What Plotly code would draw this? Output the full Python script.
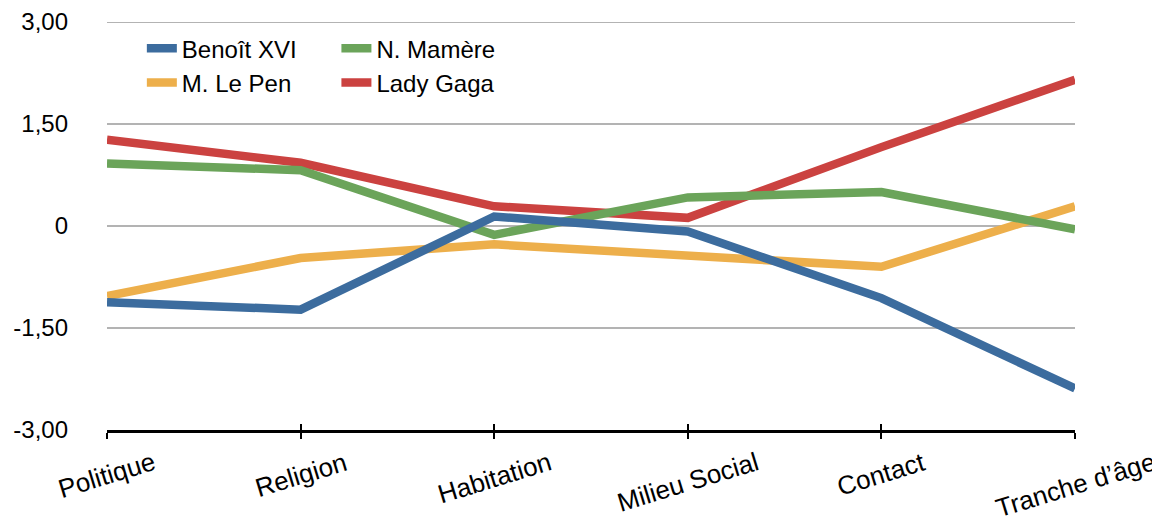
import plotly.graph_objects as go

categories = ["Politique", "Religion", "Habitation", "Milieu Social", "Contact", "Tranche d\u2019\u00e2ge"]
benoit = [-1.12, -1.23, 0.14, -0.08, -1.06, -2.39]
le_pen = [-1.03, -0.47, -0.27, -0.43, -0.60, 0.29]
mamere = [0.92, 0.82, -0.13, 0.42, 0.50, -0.05]
gaga = [1.27, 0.93, 0.29, 0.12, 1.16, 2.15]

y_tickvals = [-3, -1.5, 0, 1.5, 3]
y_ticktext = ["-3,00", "-1,50", "0", "1,50", "3,00"]

FONT = "Liberation Sans, Arial, Helvetica, sans-serif"
GRID = "#B3B3B3"
idx = list(range(len(categories)))

fig = go.Figure()
# draw order (bottom -> top): Le Pen, Gaga, Mamère, Benoît
series = [
    ("M. Le Pen", le_pen, "#EDAF4B", "legend", 2),
    ("Lady Gaga", gaga, "#CB4240", "legend2", 2),
    ("N. Mam\u00e8re", mamere, "#6BA45A", "legend2", 1),
    ("Beno\u00eet XVI", benoit, "#3C6C9E", "legend", 1),
]
for name, vals, color, leg, rank in series:
    fig.add_trace(go.Scatter(
        x=idx, y=vals, mode="lines", name=name,
        line=dict(color=color, width=8.5),
        legend=leg, legendrank=rank, cliponaxis=True,
    ))

# invisible trace for secondary x axis (inside ticks)
fig.add_trace(go.Scatter(x=idx, y=[None] * len(idx), xaxis="x2", yaxis="y",
                         showlegend=False, hoverinfo="skip"))

# top gridline (plotly omits grid at the range edge)
fig.add_shape(type="line", xref="paper", yref="y", x0=0, x1=1,
              y0=y_tickvals[-1], y1=y_tickvals[-1],
              line=dict(color=GRID, width=2), layer="below")

for i, c in enumerate(categories):
    fig.add_annotation(
        x=i, y=0, xref="x", yref="paper", text=c, showarrow=False,
        textangle=-17, xanchor="center", yanchor="top", yshift=-14,
        font=dict(family=FONT, size=26, color="#000000"),
    )

fig.update_layout(
    width=1152, height=518,
    margin=dict(l=99, r=85, t=14, b=96, autoexpand=False),
    paper_bgcolor="white", plot_bgcolor="white",
    font=dict(family=FONT, size=24, color="#000000"),
    xaxis=dict(
        range=[0, len(categories) - 1], tickvals=idx, showticklabels=False,
        showgrid=False, zeroline=False, showline=True, linecolor="#000000",
        linewidth=3, ticks="outside", ticklen=6, tickwidth=2, tickcolor="#000000",
        automargin=False,
    ),
    xaxis2=dict(
        overlaying="x", matches="x", anchor="y", side="bottom",
        range=[0, len(categories) - 1], tickvals=idx, showticklabels=False,
        showgrid=False, zeroline=False, showline=False,
        ticks="inside", ticklen=6, tickwidth=2, tickcolor="#000000",
        automargin=False,
    ),
    yaxis=dict(
        range=[-3, 3], tickvals=y_tickvals, ticktext=y_ticktext,
        showgrid=True, gridcolor=GRID, gridwidth=2,
        zeroline=False, showline=False, ticks="",
        ticklabelstandoff=38, automargin=False,
        tickfont=dict(family=FONT, size=24, color="#000000"),
    ),
    legend=dict(
        x=0.036, y=0.99, xanchor="left", yanchor="top",
        bgcolor="rgba(0,0,0,0)", font=dict(family=FONT, size=24, color="#000000"),
        orientation="v", tracegroupgap=0,
    ),
    legend2=dict(
        x=0.237, y=0.99, xanchor="left", yanchor="top",
        bgcolor="rgba(0,0,0,0)", font=dict(family=FONT, size=24, color="#000000"),
        orientation="v", tracegroupgap=0,
    ),
    showlegend=True,
)

fig.write_html("out.html")
